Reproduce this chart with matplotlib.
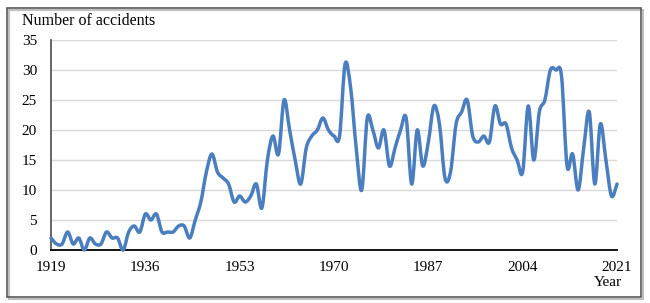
import matplotlib
matplotlib.use("Agg")
import matplotlib.pyplot as plt
from matplotlib.path import Path
from matplotlib.patches import PathPatch, Rectangle
import numpy as np

plt.rcParams['font.family'] = ['Liberation Serif', 'DejaVu Serif']

years = list(range(1919, 2022))
accidents = [
    2, 1, 1, 3, 1, 2, 0, 2, 1, 1,          # 1919-1928
    3, 2, 2, 0, 3, 4, 3, 6, 5, 6,          # 1929-1938
    3, 3, 3, 4, 4, 2, 5, 8, 13, 16,        # 1939-1948
    13, 12, 11, 8, 9, 8, 9, 11, 7, 15,     # 1949-1958
    19, 16, 25, 20, 15, 11, 17, 19, 20, 22,  # 1959-1968
    20, 19, 19, 31, 27, 17, 10, 22, 20, 17,  # 1969-1978
    20, 14, 17, 20, 22, 11, 20, 14, 18, 24,  # 1979-1988
    21, 12, 13, 21, 23, 25, 19, 18, 19, 18,  # 1989-1998
    24, 21, 21, 17, 15, 13, 24, 15, 23, 25,  # 1999-2008
    30, 30, 29, 14, 16, 10, 17, 23, 11, 21,  # 2009-2018
    15, 9, 11,                             # 2019-2021
]
xticks = [1919, 1936, 1953, 1970, 1987, 2004, 2021]
yticks = [0, 5, 10, 15, 20, 25, 30, 35]

line_color = '#4a7ebf'

fig = plt.figure(figsize=(6.5, 3.03), dpi=100)
ax = fig.add_axes([51/650, 1-250/303, 566/650, 210/303])

# smoothed line like a spreadsheet chart (bezier through the yearly points)
pts = np.column_stack([years, accidents]).astype(float)
n = len(pts)
verts = [pts[0]]
codes = [Path.MOVETO]
for i in range(n - 1):
    p_prev = pts[max(i - 1, 0)]
    p0 = pts[i]
    p1 = pts[i + 1]
    p_next = pts[min(i + 2, n - 1)]
    c1 = p0 + (p1 - p_prev) / 6.0
    c2 = p1 - (p_next - p0) / 6.0
    verts += [c1, c2, p1]
    codes += [Path.CURVE4] * 3
patch = PathPatch(Path(verts, codes), fill=False, edgecolor=line_color,
                  linewidth=2.5, capstyle='round', joinstyle='round',
                  transform=ax.transData, clip_on=False, zorder=3)
ax.add_patch(patch)

ax.set_xlim(1919, 2021)
ax.set_ylim(0, 35)
ax.set_xticks(xticks)
ax.set_yticks(yticks)
ax.tick_params(axis='both', length=0, labelsize=11, colors='black')
ax.tick_params(axis='y', pad=10)
ax.tick_params(axis='x', pad=8)
ax.grid(axis='y', color='#d9d9d9', linewidth=1.0)
ax.set_axisbelow(True)
for s in ['top', 'right']:
    ax.spines[s].set_visible(False)
ax.spines['left'].set_color('#595959')
ax.spines['left'].set_linewidth(1.3)
ax.spines['bottom'].set_color('black')
ax.spines['bottom'].set_linewidth(1.3)

fig.text(22/650, 1-21/303, 'Number of accidents', fontsize=11.5,
         ha='left', va='center')
fig.text(622/650, 1-283/303, 'Year', fontsize=11, ha='right', va='center')

# outer frame of the chart area, with a light shadow
fig.patches.append(Rectangle((9/650, 1-299/303), 634/650, 289/303,
                             transform=fig.transFigure, fill=False,
                             edgecolor='#bfbfbf', linewidth=1.5))
fig.patches.append(Rectangle((7/650, 1-297/303), 634/650, 289/303,
                             transform=fig.transFigure, fill=False,
                             edgecolor='#595959', linewidth=1.2))

fig.savefig('out.png', dpi=100)
